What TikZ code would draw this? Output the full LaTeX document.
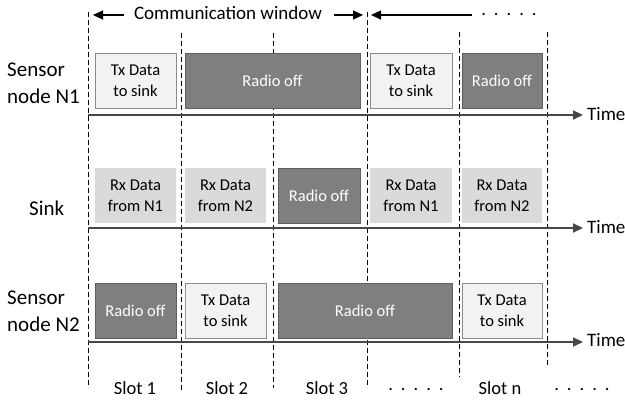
\documentclass[tikz,border=0pt]{standalone}
\usepackage{fontspec}
\setmainfont{Carlito}
\usetikzlibrary{arrows.meta}
\definecolor{lightfill}{HTML}{F2F2F2}
\definecolor{lightedge}{HTML}{8C8C8C}
\definecolor{rxfill}{HTML}{DADADA}
\definecolor{offfill}{HTML}{7F7F7F}
\definecolor{offedge}{HTML}{5E5E5E}
\definecolor{axiscol}{HTML}{474747}
\newcommand{\dotrow}{.\hspace{8pt}.\hspace{8pt}.\hspace{8pt}.\hspace{8pt}.}
\begin{document}
\begin{tikzpicture}[x=1pt,y=-1pt,
  slotbox/.style={minimum height=55pt,inner sep=0pt,align=center,
    font=\fontsize{16.5}{21}\selectfont},
  txbox/.style={slotbox,fill=lightfill,draw=lightedge,line width=0.9pt},
  rxbox/.style={slotbox,fill=rxfill},
  offbox/.style={slotbox,fill=offfill,draw=offedge,line width=0.9pt,text=white},
  slotsep/.style={dashed,dash pattern=on 5pt off 3pt,line width=0.8pt},
  timeline/.style={axiscol,line width=2.2pt,-{Triangle[length=10pt,width=9pt]}},
  winarrow/.style={black,line width=1.2pt,-{Triangle[length=10pt,width=9pt]}},
  rowlabel/.style={align=left,font=\fontsize{21}{27}\selectfont,anchor=west,inner sep=0pt},
  plainlabel/.style={font=\fontsize{18.5}{20}\selectfont,inner sep=0pt}]
\useasboundingbox (0,0) rectangle (625,403);

% slot boundaries
\foreach \xx/\ya/\yb in {88/12/388,181/33/390,273/33/388,367/12/388,459/32/377,547/32/365}
  \draw[slotsep] (\xx,\ya) -- (\xx,\yb);

% communication window header
\node[plainlabel,font=\fontsize{19}{20}\selectfont] (cw) at (228,13) {Communication window};
\coordinate (cwl) at (93,15);
\coordinate (cwr) at (363,15);
\coordinate (nwl) at (371,15);
\coordinate (nwr) at (472,15);
\draw[winarrow] (cw.west |- cwl) ++(-10,0) -- (cwl);
\draw[winarrow] (cw.east |- cwr) ++(12,0) -- (cwr);
\draw[winarrow] (nwr) -- (nwl);
\node[plainlabel] (topdots) at (509,15) {\dotrow};

% row labels
\node[rowlabel] (ln1) at (7,83) {Sensor\\node N1};
\node[rowlabel] (lsk) at (29,208) {Sink};
\node[rowlabel] (ln2) at (7,311) {Sensor\\node N2};

% time axes
\coordinate (t1s) at (88,115);  \coordinate (t1e) at (583,115);
\coordinate (t2s) at (88,228);  \coordinate (t2e) at (583,228);
\coordinate (t3s) at (88,342);  \coordinate (t3e) at (583,342);
\draw[timeline] (t1s) -- (t1e);
\draw[timeline] (t2s) -- (t2e);
\draw[timeline] (t3s) -- (t3e);
\node[plainlabel,anchor=west,font=\fontsize{19}{20}\selectfont] (time1) at (587,114) {Time};
\node[plainlabel,anchor=west,font=\fontsize{19}{20}\selectfont] (time2) at (587,227) {Time};
\node[plainlabel,anchor=west,font=\fontsize{19}{20}\selectfont] (time3) at (587,340) {Time};

% sensor node N1
\node[txbox,minimum width=81pt]  (n1a) at (135.5,80.5) {Tx Data\\to sink};
\node[offbox,minimum width=175pt] (n1b) at (272.5,80.5) {Radio off};
\node[txbox,minimum width=82pt]  (n1d) at (411,80.5) {Tx Data\\to sink};
\node[offbox,minimum width=80pt] (n1e) at (502,80.5) {Radio off};

% sink
\node[rxbox,minimum width=81pt]  (ska) at (135.5,195.5) {Rx Data\\from N1};
\node[rxbox,minimum width=81pt]  (skb) at (225.5,195.5) {Rx Data\\from N2};
\node[offbox,minimum width=82pt] (skc) at (319,195.5) {Radio off};
\node[rxbox,minimum width=82pt]  (skd) at (411,195.5) {Rx Data\\from N1};
\node[rxbox,minimum width=80pt]  (ske) at (502,195.5) {Rx Data\\from N2};

% sensor node N2
\node[offbox,minimum width=81pt]  (n2a) at (135.5,311) {Radio off};
\node[txbox,minimum width=81pt]   (n2b) at (225.5,311) {Tx Data\\to sink};
\node[offbox,minimum width=174pt] (n2c) at (365,311) {Radio off};
\node[txbox,minimum width=80pt]   (n2e) at (502,311) {Tx Data\\to sink};

% slot captions
\node[plainlabel] (s1) at (135,388) {Slot 1};
\node[plainlabel] (s2) at (227,388) {Slot 2};
\node[plainlabel] (s3) at (327,388) {Slot 3};
\node[plainlabel] (sd) at (416,390) {\dotrow};
\node[plainlabel] (sn) at (500,388) {Slot n};
\node[plainlabel] (se) at (582,390) {\dotrow};
\end{tikzpicture}
\end{document}
